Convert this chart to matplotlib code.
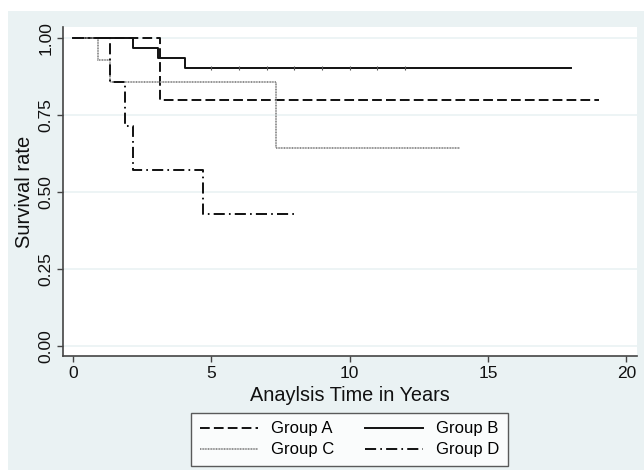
import numpy as np
import matplotlib
matplotlib.use("Agg")
import matplotlib.pyplot as plt
from matplotlib.patches import Rectangle

# Kaplan-Meier step data
a_t = [0, 3.14, 19.0]
a_s = [1.0, 0.80, 0.80]
b_t = [0, 2.18, 3.06, 4.05, 18.0]
b_s = [1.0, 0.968, 0.935, 0.903, 0.903]
b_cens = [5, 6, 7, 8, 9, 10, 11, 12]
c_t = [0, 0.89, 1.34, 7.34, 14.0]
c_s = [1.0, 0.929, 0.857, 0.643, 0.643]
d_t = [0, 1.34, 1.88, 2.16, 4.69, 8.0]
d_s = [1.0, 0.857, 0.714, 0.571, 0.429, 0.429]

xticks = [0, 5, 10, 15, 20]
yticks = [0.0, 0.25, 0.5, 0.75, 1.0]

plt.rcParams['font.family'] = ['Liberation Sans', 'DejaVu Sans']
plt.rcParams['lines.scale_dashes'] = False

bg = '#eaf2f3'
ink = '#111111'

fig = plt.figure(figsize=(6.44, 4.70), dpi=100)
fig.patches.append(Rectangle((8/644, 0), 1 - 8/644, (470-11)/470,
                             transform=fig.transFigure, facecolor=bg,
                             edgecolor='none', zorder=-10))

ax = fig.add_axes([63/644, (470-356)/470, (637-63)/644, (356-27)/470])
ax.set_facecolor('white')

for y in yticks:
    ax.axhline(y, color=bg, lw=1.2, zorder=0)

ax.step(a_t, a_s, where='post', color=ink, lw=1.4, dashes=(7, 3), label='Group A')
ax.step(b_t, b_s, where='post', color=ink, lw=1.4, label='Group B')
ax.plot(b_cens, [b_s[-1]]*len(b_cens), ls='none', marker='|', ms=2.5,
        mew=0.8, color='#555555')
ax.step(c_t, c_s, where='post', color='#8a8a8a', lw=1.4, dashes=(0.7, 0.45),
        label='Group C')
ax.step(d_t, d_s, where='post', color=ink, lw=1.4, dashes=(8, 3, 1.2, 3),
        label='Group D')

ax.set_xlim(-0.36, 20.38)
ax.set_ylim(-0.032, 1.036)
ax.set_xticks(xticks)
ax.set_yticks(yticks)
ax.set_yticklabels(['%.2f' % y for y in yticks], rotation=90, va='center')
ax.tick_params(axis='both', direction='out', length=4, width=1,
               color='#444444', labelsize=12.5, labelcolor=ink)
ax.tick_params(axis='y', pad=3)
ax.tick_params(axis='x', pad=3)
for s in ['top', 'right']:
    ax.spines[s].set_visible(False)
for s in ['left', 'bottom']:
    ax.spines[s].set_color('#444444')
    ax.spines[s].set_linewidth(1.2)

ax.set_xlabel('Anaylsis Time in Years', fontsize=14.3, color=ink, labelpad=4)
ax.set_ylabel('Survival rate', fontsize=14.5, color=ink, labelpad=3)

h, l = ax.get_legend_handles_labels()
order = [0, 2, 1, 3]
leg = fig.legend([h[i] for i in order], [l[i] for i in order], ncol=2,
                 loc='upper center', bbox_to_anchor=(349.5/644, (470-413)/470),
                 frameon=True, fancybox=False, fontsize=12,
                 handlelength=3.5, handletextpad=0.8, columnspacing=1.8,
                 borderpad=0.5, labelspacing=0.36, borderaxespad=0)
leg.get_frame().set_edgecolor('#333333')
leg.get_frame().set_linewidth(1.0)

fig.savefig('out.png', dpi=100, facecolor='white')
